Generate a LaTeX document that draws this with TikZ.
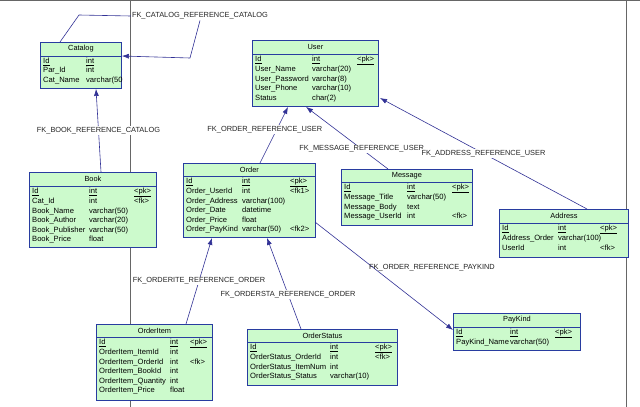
\documentclass[tikz,border=0pt]{standalone}
\usepackage{fontspec}
\setmainfont{Liberation Sans}
\usetikzlibrary{arrows.meta}
\definecolor{efill}{RGB}{204,250,204}
\definecolor{eline}{RGB}{40,60,160}
\definecolor{cline}{RGB}{50,50,150}
\tikzset{
  ent/.style={draw=eline, line width=0.9pt, fill=efill, rectangle, inner sep=0pt},
  sep/.style={draw=eline, line width=0.7pt},
  conn/.style={draw=cline, line width=0.6pt},
  fk/.style={conn, -{Latex[length=7pt,width=5pt]}},
  lbl/.style={font=\fontsize{7.4}{8}\selectfont, inner sep=1pt, text=black!85},
  ttl/.style={font=\fontsize{7.4}{8}\selectfont, inner sep=0pt},
}
\newcommand\ent[9]{%
  \node[ent, minimum width=#4pt, minimum height=#5pt, anchor=north west] (#1) at (#2,#3) {};
  \draw[sep] ([yshift=-#6pt]#1.north west) -- ([yshift=-#6pt]#1.north east);
  \node[ttl] at ([yshift=-#6pt/2]#1.north) {#7};
  \node[anchor=north west, inner sep=0pt, font=\fontsize{7.6}{9.5}\selectfont]
    at ([xshift=3pt,yshift=-#6pt-0.5pt]#1.north west)
    {\setlength\tabcolsep{0pt}\renewcommand\arraystretch{1}\begin{tabular}{#8}#9\end{tabular}};
}
\newcommand\ul[1]{\underline{#1}}
\begin{document}
\begin{tikzpicture}[x=1pt,y=-1pt]
\useasboundingbox (0,0) rectangle (640,407);
\fill[white] (0,0) rectangle (640,407);
\draw[black!60, line width=1pt] (0,0.5) -- (640,0.5);
\draw[black!60, line width=1pt] (130,0) -- (130,407);
\draw[black!60, line width=1pt] (626,0) -- (626,407);

\ent{catalog}{40}{42}{81}{46}{14}{Catalog}{p{43pt}l}{\ul{Id}&\ul{int}\\Par\_Id&int\\Cat\_Name&varchar(50}
\ent{book}{29}{172}{127}{75}{14}{Book}{p{57pt}p{45pt}l}{\ul{Id}&\ul{int}&\ul{<pk>}\\Cat\_Id&int&<fk>\\Book\_Name&varchar(50)&\\Book\_Author&varchar(20)&\\Book\_Publisher&varchar(50)&\\Book\_Price&float&}
\ent{user}{252}{40}{126}{66}{14}{User}{p{57pt}p{45pt}l}{\ul{Id}&\ul{int}&\ul{<pk>}\\User\_Name&varchar(20)&\\User\_Password&varchar(8)&\\User\_Phone&varchar(10)&\\Status&char(2)&}
\ent{order}{183}{163}{132}{74}{13}{Order}{p{56pt}p{48pt}l}{\ul{Id}&\ul{int}&\ul{<pk>}\\Order\_UserId&int&<fk1>\\Order\_Address&varchar(100)&\\Order\_Date&datetime&\\Order\_Price&float&\\Order\_PayKind&varchar(50)&<fk2>}
\ent{message}{341}{169}{131}{56}{13}{Message}{p{63pt}p{45pt}l}{\ul{Id}&\ul{int}&\ul{<pk>}\\Message\_Title&varchar(50)&\\Message\_Body&text&\\Message\_UserId&int&<fk>}
\ent{address}{499}{209}{129}{48}{14}{Address}{p{56pt}p{42pt}l}{\ul{Id}&\ul{int}&\ul{<pk>}\\Address\_Order&varchar(100)&\\UserId&int&<fk>}
\ent{orderitem}{96}{324}{116}{76}{13}{OrderItem}{p{71pt}p{20pt}l}{\ul{Id}&\ul{int}&\ul{<pk>}\\OrderItem\_ItemId&int&\\OrderItem\_OrderId&int&<fk>\\OrderItem\_BookId&int&\\OrderItem\_Quantity&int&\\OrderItem\_Price&float&}
\ent{orderstatus}{247}{329}{150}{56}{13}{OrderStatus}{p{80pt}p{45pt}l}{\ul{Id}&\ul{int}&\ul{<pk>}\\OrderStatus\_OrderId&int&<fk>\\OrderStatus\_ItemNum&int&\\OrderStatus\_Status&varchar(10)&}
\ent{paykind}{453}{313}{127}{37}{14}{PayKind}{p{54pt}p{45pt}l}{\ul{Id}&\ul{int}&\ul{<pk>}\\PayKind\_Name&varchar(50)&}

% self reference
\node[lbl] (l0) at (200,16) {FK\_CATALOG\_REFERENCE\_CATALOG};
\coordinate (c1) at (79,15);
\coordinate (c2) at (190,58);
\draw[conn] ([xshift=20pt]catalog.north west) -- (c1) -- (l0.west);
\draw[fk] (l0.south) -- (c2) -- ([yshift=-14pt]catalog.north east);

\draw[fk] (book.north -| 101,0) -- node[lbl, fill=white]{FK\_BOOK\_REFERENCE\_CATALOG} (catalog.south -| 96,0);
\draw[fk] (order.north -| 260,0) -- node[lbl, fill=white, pos=0.6, xshift=-12pt]{FK\_ORDER\_REFERENCE\_USER} (user.south -| 288,0);
\draw[fk] (message.north -| 388,0) -- node[lbl, fill=white, pos=0.32]{FK\_MESSAGE\_REFERENCE\_USER} (user.south -| 306,0);
\coordinate (ua) at (380,98);
\draw[fk] (address.north -| 587,0) -- node[lbl, fill=white, pos=0.5]{FK\_ADDRESS\_REFERENCE\_USER} (ua);
\draw[fk] (orderitem.north -| 186,0) -- node[lbl, fill=white, pos=0.5]{FK\_ORDERITE\_REFERENCE\_ORDER} (order.south -| 212,0);
\draw[fk] (orderstatus.north -| 301,0) -- node[lbl, fill=white, pos=0.38]{FK\_ORDERSTA\_REFERENCE\_ORDER} (order.south -| 267,0);
\coordinate (op) at (315,222);
\coordinate (pk) at (453,330);
\draw[fk] (op) -- (pk);
\node[lbl] at (432,268) {FK\_ORDER\_REFERENCE\_PAYKIND};
\end{tikzpicture}
\end{document}
